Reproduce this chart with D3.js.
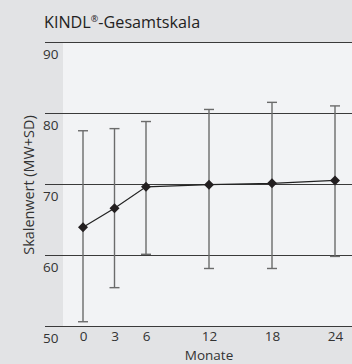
<!DOCTYPE html>
<html>
<head>
<meta charset="utf-8">
<script src="https://cdn.jsdelivr.net/npm/d3@7"></script>
<style>
  body { margin: 0; background: #e2e3e5; }
  svg { display: block; font-family: "Open Sans", sans-serif; }
</style>
</head>
<body>
<div id="chart"></div>
<script>
// values
var months = [0, 3, 6, 12, 18, 24];
var means  = [63.9, 66.6, 69.6, 69.9, 70.1, 70.5];
var upper  = [77.5, 77.8, 78.8, 80.5, 81.5, 81.0];
var lower  = [50.6, 55.4, 60.1, 58.1, 58.1, 59.8];
var yTicks = [50, 60, 70, 80, 90];
var xTicks = [0, 3, 6, 12, 18, 24];

var width = 352, height = 364;

var svg = d3.select('#chart')
    .append('svg')
    .attr('width', width)
    .attr('height', height);

var x = d3.scaleLinear().domain([0, 24]).range([83, 335]);
var y = d3.scaleLinear().domain([50, 90]).range([326, 42]);

svg.append('rect')
    .attr('width', width).attr('height', height)
    .attr('fill', '#e2e3e5');

// plot panel
svg.append('rect')
    .attr('x', 63).attr('y', y(90))
    .attr('width', width - 63).attr('height', y(50) - y(90))
    .attr('fill', '#f2f3f5');

var title = svg.append('text')
    .attr('x', 44).attr('y', 28)
    .attr('font-size', 16.2)
    .attr('fill', '#222');
title.append('tspan').text('KINDL');
title.append('tspan').attr('font-size', 9).attr('dy', -6).text('®');
title.append('tspan').attr('dy', 6).text('-Gesamtskala');

// gridlines + y labels below each line
var yAxis = svg.append('g')
    .attr('transform', 'translate(45,0)')
    .call(d3.axisRight(y).tickValues(yTicks).tickSize(width - 45));
yAxis.select('.domain').remove();
yAxis.selectAll('line').attr('stroke', '#3a3a3a').attr('stroke-width', 1.2);
yAxis.selectAll('text')
    .attr('x', -2).attr('dy', 16)
    .attr('text-anchor', 'start')
    .attr('font-size', 13.5)
    .attr('font-family', '"Open Sans", sans-serif')
    .attr('fill', '#333');

var xAxis = svg.append('g')
    .attr('transform', 'translate(0,326)')
    .call(d3.axisBottom(x).tickValues(xTicks).tickSize(0));
xAxis.select('.domain').remove();
xAxis.selectAll('text')
    .attr('dy', 12)
    .attr('font-size', 13.5)
    .attr('font-family', '"Open Sans", sans-serif')
    .attr('fill', '#333');

svg.append('text')
    .attr('x', x(12)).attr('y', 359.5)
    .attr('text-anchor', 'middle')
    .attr('font-size', 13.5)
    .attr('fill', '#333')
    .text('Monate');

svg.append('text')
    .attr('transform', 'translate(34,' + 185 + ') rotate(-90)')
    .attr('text-anchor', 'middle')
    .attr('font-size', 14.4)
    .attr('fill', '#333')
    .text('Skalenwert (MW+SD)');

var data = months.map(function(m, i) {
    return { m: m, mean: means[i], hi: upper[i], lo: lower[i] };
});

// error bars
var bars = svg.append('g').attr('stroke', '#6b6b6b').attr('stroke-width', 1.4);
bars.selectAll('line.v').data(data).enter().append('line')
    .attr('x1', d => x(d.m)).attr('x2', d => x(d.m))
    .attr('y1', d => y(d.hi)).attr('y2', d => y(d.lo));
bars.selectAll('line.hi').data(data).enter().append('line')
    .attr('x1', d => x(d.m) - 5).attr('x2', d => x(d.m) + 5)
    .attr('y1', d => y(d.hi)).attr('y2', d => y(d.hi));
bars.selectAll('line.lo').data(data).enter().append('line')
    .attr('x1', d => x(d.m) - 5).attr('x2', d => x(d.m) + 5)
    .attr('y1', d => y(d.lo)).attr('y2', d => y(d.lo));

svg.append('path')
    .datum(data)
    .attr('fill', 'none')
    .attr('stroke', '#222')
    .attr('stroke-width', 1.2)
    .attr('d', d3.line().x(d => x(d.m)).y(d => y(d.mean)));

svg.selectAll('path.pt').data(data).enter().append('path')
    .attr('class', 'pt')
    .attr('transform', d => 'translate(' + x(d.m) + ',' + y(d.mean) + ')')
    .attr('d', d3.symbol().type(d3.symbolDiamond2).size(64))
    .attr('fill', '#231f20');
</script>
</body>
</html>
